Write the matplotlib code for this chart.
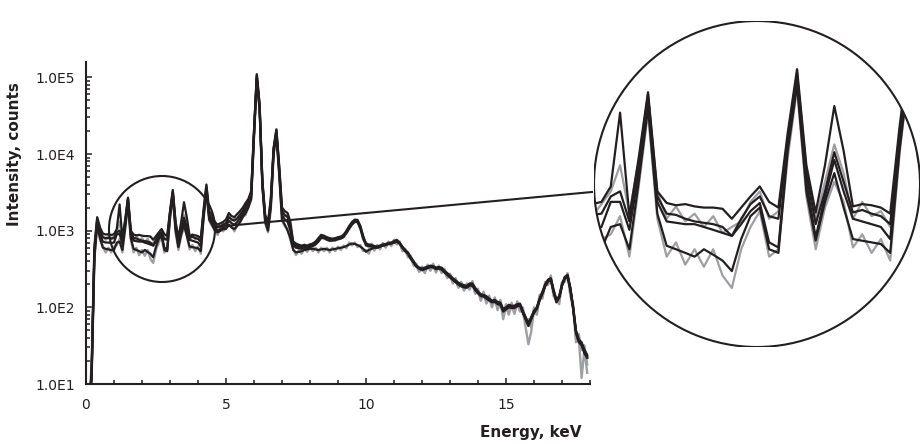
import numpy as np
import matplotlib
matplotlib.use('Agg')
import matplotlib.pyplot as plt
from matplotlib.patches import Circle, Ellipse
from matplotlib.lines import Line2D
from matplotlib.ticker import FuncFormatter, MultipleLocator, NullFormatter, LogLocator

# energy grid, 0.1 keV channels
energy = np.round(np.arange(180) * 0.1, 1)

# smoothed spectra (black), counts
spec_a = [
    3, 4, 15, 600, 1500, 1100, 920, 890, 900, 880,
    900, 1050, 2200, 780, 1400, 2700, 1000, 890, 870, 880,
    860, 850, 850, 840, 760, 850, 950, 1050, 900, 850,
    1800, 3400, 1300, 810, 1300, 2350, 1500, 860, 880, 870,
    850, 800, 1900, 4000, 1800, 1600, 1300, 1200, 1250, 1300,
    1400, 1700, 1550, 1500, 1650, 1800, 2000, 2300, 2600, 3300,
    20000, 110000, 45000, 4500, 1600, 1300, 2600, 12000, 21000, 7000,
    2000, 1800, 1700, 1300, 720, 680, 650, 640, 650, 640,
    660, 680, 720, 800, 880, 860, 820, 800, 780, 800,
    820, 840, 880, 1000, 1150, 1300, 1390, 1380, 1150, 850,
    680, 660, 650, 630, 620, 640, 660, 670, 690, 700,
    730, 760, 700, 620, 560, 520, 450, 400, 350, 330,
    320, 330, 340, 350, 345, 330, 335, 330, 300, 280,
    260, 240, 225, 210, 200, 195, 190, 205, 205, 180,
    160, 148, 145, 140, 130, 122, 125, 118, 115, 95,
    100, 108, 105, 105, 110, 112, 90, 75, 62, 75,
    90, 100, 130, 160, 200, 230, 240, 170, 125, 140,
    200, 250, 265, 180, 100, 50, 38, 35, 28, 24,
]
spec_b = [
    3, 4, 14, 550, 1400, 1000, 820, 800, 800, 790,
    800, 950, 1000, 740, 1300, 2600, 950, 800, 790, 760,
    740, 730, 720, 700, 640, 760, 880, 950, 780, 760,
    1700, 3200, 1200, 720, 1000, 1480, 1100, 810, 830, 800,
    780, 720, 1700, 3700, 1600, 1400, 1200, 1100, 1150, 1200,
    1250, 1500, 1400, 1350, 1450, 1600, 1800, 2100, 2400, 3000,
    19000, 105000, 42000, 4200, 1500, 1200, 2400, 11500, 20000, 6500,
    1800, 1600, 1500, 1100, 680, 640, 620, 610, 620, 610,
    630, 650, 690, 760, 840, 830, 790, 770, 760, 770,
    790, 810, 850, 960, 1100, 1250, 1350, 1340, 1100, 820,
    660, 640, 630, 620, 610, 630, 650, 660, 680, 690,
    710, 740, 690, 610, 550, 510, 440, 390, 345, 325,
    315, 325, 335, 345, 340, 325, 330, 320, 295, 275,
    255, 235, 220, 205, 195, 190, 188, 200, 200, 175,
    158, 146, 142, 136, 128, 120, 122, 115, 112, 93,
    98, 105, 102, 102, 107, 110, 88, 73, 60, 73,
    88, 98, 128, 156, 195, 225, 235, 165, 122, 138,
    196, 245, 258, 175, 98, 48, 37, 34, 27, 23,
]
spec_c = [
    3, 4, 13, 500, 1300, 900, 720, 700, 700, 690,
    700, 900, 900, 680, 1200, 2500, 900, 740, 730, 720,
    720, 700, 680, 660, 640, 720, 820, 890, 600, 570,
    1600, 3000, 1100, 630, 950, 1370, 1000, 760, 740, 720,
    700, 620, 1600, 3500, 1500, 1300, 1100, 1000, 1050, 1100,
    1150, 1350, 1250, 1200, 1300, 1450, 1650, 1900, 2200, 2800,
    18000, 100000, 40000, 4000, 1400, 1100, 2200, 11000, 19000, 6000,
    1600, 1400, 1300, 1000, 640, 600, 590, 580, 600, 590,
    610, 630, 660, 720, 800, 800, 760, 740, 740, 750,
    770, 790, 820, 930, 1060, 1200, 1300, 1290, 1050, 790,
    640, 630, 620, 610, 600, 620, 640, 650, 670, 680,
    700, 720, 680, 600, 540, 500, 430, 385, 340, 320,
    310, 320, 330, 340, 335, 320, 325, 315, 290, 270,
    250, 230, 215, 200, 190, 185, 185, 195, 195, 170,
    155, 143, 140, 133, 125, 118, 120, 112, 110, 90,
    96, 102, 100, 100, 105, 108, 86, 71, 58, 71,
    86, 96, 125, 152, 190, 220, 230, 160, 118, 135,
    192, 240, 252, 170, 95, 47, 36, 33, 26, 22,
]
spec_d = [
    3, 4, 12, 450, 1200, 800, 600, 580, 570, 560,
    560, 700, 720, 560, 1100, 2300, 800, 580, 560, 540,
    520, 560, 530, 500, 450, 620, 780, 850, 560, 540,
    1500, 2900, 1000, 610, 900, 1200, 850, 620, 610, 600,
    590, 540, 1500, 3300, 1400, 1200, 1000, 950, 1000, 1050,
    1050, 1200, 1100, 1050, 1150, 1300, 1500, 1700, 2000, 2600,
    17000, 95000, 38000, 3800, 1300, 1000, 2000, 10000, 18000, 5500,
    1400, 1200, 1000, 800, 560, 520, 530, 540, 560, 570,
    580, 580, 570, 560, 570, 580, 570, 560, 570, 580,
    590, 600, 610, 630, 660, 680, 670, 650, 620, 580,
    530, 560, 580, 600, 600, 620, 640, 650, 670, 680,
    700, 720, 680, 600, 540, 500, 430, 385, 340, 320,
    305, 315, 325, 335, 330, 315, 320, 310, 285, 265,
    245, 228, 212, 198, 188, 182, 180, 192, 192, 168,
    152, 140, 138, 130, 123, 116, 118, 110, 108, 88,
    94, 100, 98, 98, 103, 106, 84, 70, 57, 70,
    85, 95, 122, 150, 188, 218, 228, 158, 116, 133,
    190, 238, 250, 168, 93, 46, 35, 32, 25, 22,
]

# raw (unsmoothed) spectra, grey
raw_1 = [
    3, 5, 18, 650, 1450, 1050, 850, 760, 860, 780,
    880, 1000, 1300, 800, 1350, 2650, 1000, 760, 860, 740,
    800, 700, 780, 660, 700, 740, 900, 1000, 760, 820,
    1700, 3300, 1250, 760, 1100, 1600, 1200, 760, 900, 780,
    820, 700, 1800, 3800, 1650, 1500, 1150, 1180, 1100, 1250,
    1200, 1600, 1350, 1450, 1400, 1700, 1750, 2200, 2350, 3100,
    19500, 108000, 43000, 4300, 1450, 1250, 2500, 11800, 20500, 6800,
    1900, 1550, 1600, 1050, 720, 600, 660, 580, 660, 590,
    670, 620, 720, 720, 880, 790, 830, 730, 800, 740,
    830, 780, 900, 920, 1150, 1200, 1400, 1280, 1150, 760,
    700, 600, 680, 580, 650, 590, 690, 620, 720, 650,
    760, 700, 720, 560, 580, 470, 470, 360, 370, 300,
    340, 290, 360, 310, 370, 300, 350, 290, 320, 250,
    275, 215, 240, 185, 215, 175, 205, 175, 220, 155,
    175, 130, 160, 120, 142, 105, 135, 100, 125, 80,
    110, 90, 115, 88, 120, 95, 100, 62, 70, 55,
    100, 85, 145, 140, 215, 205, 260, 150, 135, 120,
    215, 225, 280, 150, 110, 40, 45, 28, 32, 18,
]
raw_2 = [
    3, 4, 11, 420, 1150, 760, 640, 520, 600, 520,
    620, 650, 780, 520, 1050, 2200, 760, 520, 600, 480,
    560, 470, 560, 430, 380, 560, 700, 820, 520, 560,
    1400, 2800, 950, 560, 850, 1100, 900, 570, 650, 540,
    620, 500, 1450, 3200, 1350, 1150, 1050, 880, 1050, 980,
    1100, 1150, 1150, 980, 1200, 1250, 1550, 1600, 2100, 2500,
    16500, 92000, 37000, 3700, 1250, 950, 1900, 9800, 17500, 5300,
    1350, 1150, 1050, 750, 580, 480, 560, 500, 590, 530,
    610, 540, 600, 520, 600, 540, 600, 520, 600, 540,
    620, 560, 640, 590, 700, 640, 700, 610, 650, 540,
    560, 500, 610, 550, 640, 570, 680, 600, 700, 630,
    730, 660, 700, 540, 560, 450, 450, 350, 350, 290,
    320, 280, 345, 300, 350, 285, 335, 280, 300, 240,
    260, 205, 225, 180, 200, 165, 190, 170, 205, 150,
    162, 122, 150, 112, 132, 100, 126, 92, 118, 70,
    102, 80, 108, 82, 112, 88, 92, 55, 33, 48,
    92, 80, 135, 130, 200, 195, 245, 140, 125, 110,
    205, 215, 270, 140, 100, 35, 40, 12, 28, 14,
]

smoothed = [spec_a, spec_b, spec_c, spec_d]
raw = [raw_1, raw_2]

INK = '#231f20'
GREY = '#9d9fa2'
W, H = 924, 444

fig = plt.figure(figsize=(W / 100, H / 100), dpi=100, facecolor='white')

# ── main spectrum ────────────────────────────────────────────────
ax = fig.add_axes([86 / W, 1 - 384 / H, 504 / W, 322 / H])
for r in raw:
    ax.plot(energy, r, color=GREY, lw=1.7, zorder=2)
for s in smoothed:
    ax.plot(energy, s, color=INK, lw=1.6, zorder=3)

ax.set_yscale('log')
ax.set_xlim(0, 18)
ax.set_ylim(10, 10 ** 5.2)
for side in ['top', 'right']:
    ax.spines[side].set_visible(False)
for side in ['left', 'bottom']:
    ax.spines[side].set_linewidth(1.5)
    ax.spines[side].set_color(INK)

ax.xaxis.set_major_locator(MultipleLocator(5))
ax.xaxis.set_minor_locator(MultipleLocator(1))
ax.yaxis.set_major_locator(LogLocator(base=10))
ax.yaxis.set_minor_locator(LogLocator(base=10, subs=np.arange(2, 10)))
ax.yaxis.set_major_formatter(FuncFormatter(lambda v, p: f"1.0E{int(round(np.log10(v)))}"))
ax.yaxis.set_minor_formatter(NullFormatter())
ax.tick_params(which='both', direction='in', color=INK, width=1.1, labelsize=10, labelcolor=INK)
ax.tick_params(which='major', length=4.5)
ax.tick_params(which='minor', length=2.8)
ax.tick_params(axis='x', pad=10)
ax.tick_params(axis='y', pad=8)

ax.set_xlabel('Energy, keV', fontsize=11, fontweight='bold', color=INK, ha='right')
ax.xaxis.set_label_coords((582 - 86) / 504, (384 - 425) / 322)
ax.set_ylabel('Intensity, counts', fontsize=11, fontweight='bold', color=INK)
ax.yaxis.set_label_coords((22 - 86) / 504, (384 - 154) / 322)

# circle marking the magnified region
fig.add_artist(Ellipse((162 / W, 1 - 229 / H), 106 / W, 106 / H, transform=fig.transFigure,
                       fill=False, ec=INK, lw=1.5, zorder=5))
fig.add_artist(Line2D([215 / W, 592 / W], [1 - 227 / H, 1 - 192 / H], transform=fig.transFigure,
                      color=INK, lw=1.5, zorder=5))

# ── magnified view ───────────────────────────────────────────────
ax_in = fig.add_axes([594 / W, 1 - 347 / H, 326 / W, 326 / H])
ax_in.set_yscale('log')
ax_in.set_xlim(0.92, 4.42)
ax_in.set_ylim(10 ** 2.323, 10 ** 3.741)
ax_in.axis('off')
ring = Circle((0.5, 0.5), 0.5, transform=ax_in.transAxes, fc='none', ec=INK, lw=1.5, zorder=5)
ax_in.add_patch(ring)
for r in raw:
    ln, = ax_in.plot(energy, r, color=GREY, lw=1.6, zorder=2)
    ln.set_clip_path(ring)
for s in smoothed:
    ln, = ax_in.plot(energy, s, color=INK, lw=1.6, zorder=3)
    ln.set_clip_path(ring)

fig.savefig('out.png', dpi=100, facecolor='white')
plt.close()
